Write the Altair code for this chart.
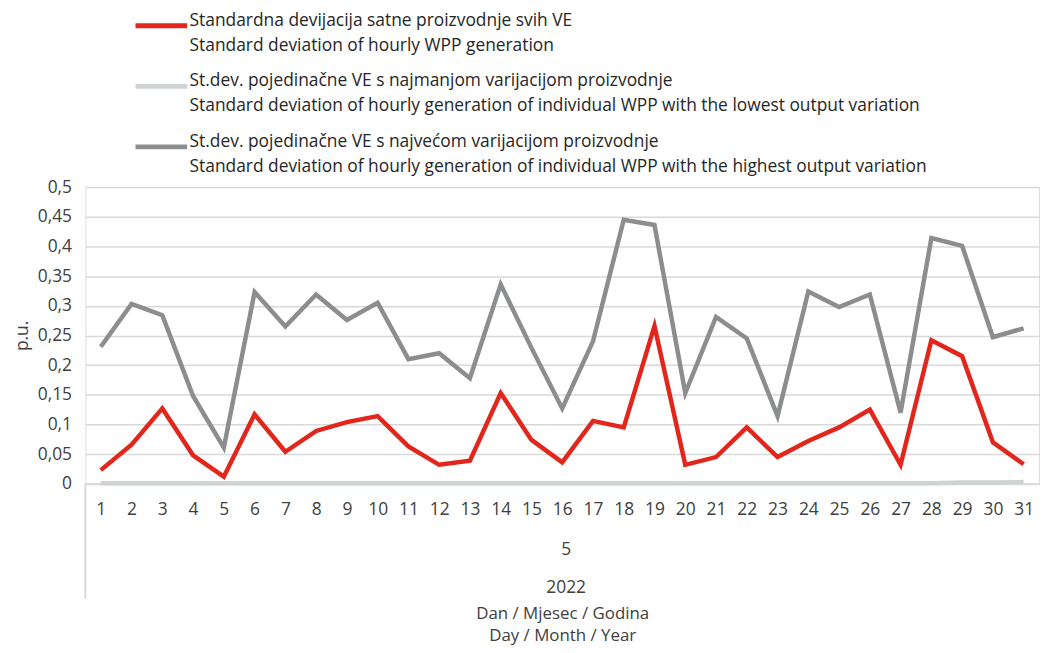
import altair as alt
import pandas as pd

days = list(range(1, 32))

series_names = [
    "Standardna devijacija satne proizvodnje svih VE|Standard deviation of hourly WPP generation",
    "St.dev. pojedinačne VE s najmanjom varijacijom proizvodnje|Standard deviation of hourly generation of individual WPP with the lowest output variation",
    "St.dev. pojedinačne VE s najvećom varijacijom proizvodnje|Standard deviation of hourly generation of individual WPP with the highest output variation",
]
series_colors = ["#e2261c", "#d0d3d4", "#8b8d8f"]

all_wpp = [0.023, 0.066, 0.127, 0.048, 0.012, 0.117, 0.054, 0.089, 0.104, 0.114,
           0.063, 0.032, 0.039, 0.153, 0.074, 0.036, 0.106, 0.095, 0.266, 0.032,
           0.045, 0.095, 0.045, 0.072, 0.095, 0.125, 0.032, 0.242, 0.215, 0.070,
           0.033]
lowest_wpp = [0.001, 0.001, 0.001, 0.001, 0.001, 0.001, 0.001, 0.001, 0.001, 0.001,
              0.001, 0.001, 0.001, 0.001, 0.001, 0.001, 0.001, 0.001, 0.001, 0.001,
              0.001, 0.001, 0.001, 0.001, 0.001, 0.001, 0.001, 0.001, 0.002, 0.002,
              0.003]
highest_wpp = [0.231, 0.303, 0.284, 0.148, 0.061, 0.323, 0.265, 0.319, 0.276, 0.305,
               0.210, 0.220, 0.178, 0.336, 0.229, 0.127, 0.240, 0.445, 0.436, 0.153,
               0.281, 0.245, 0.114, 0.324, 0.298, 0.319, 0.120, 0.414, 0.401, 0.247,
               0.262]

rows = []
for name, vals in zip(series_names, [all_wpp, lowest_wpp, highest_wpp]):
    for d, v in zip(days, vals):
        rows.append({"day": str(d), "value": v, "series": name})
df = pd.DataFrame(rows)

# draw order: light gray first, then dark gray, red on top
draw_order = {series_names[1]: 0, series_names[2]: 1, series_names[0]: 2}
df["z"] = df["series"].map(draw_order)

FONT = "Open Sans"
TXT = "#404040"
FS = 17.5
W, H = 961, 299

lines = alt.Chart(df).mark_line(strokeWidth=4.5, strokeJoin="miter", strokeCap="butt").encode(
    x=alt.X("day:O", sort=[str(d) for d in days],
            scale=alt.Scale(paddingInner=0, paddingOuter=0),
            axis=alt.Axis(title=["Dan / Mjesec / Godina", "Day / Month / Year"],
                          titleFont=FONT, titleFontSize=17, titleFontWeight="normal",
                          titleColor=TXT, titlePadding=88, titleLineHeight=22,
                          labelAngle=0, labelFont=FONT, labelFontSize=FS, labelColor=TXT,
                          labelPadding=17, ticks=False, domain=True,
                          domainColor="#d9d9d9", domainWidth=2, grid=False)),
    y=alt.Y("value:Q", scale=alt.Scale(domain=[0, 0.5], nice=False),
            axis=alt.Axis(title="p.u.", titleFont=FONT, titleFontSize=FS,
                          titleFontWeight="normal", titleColor=TXT, titlePadding=6,
                          values=[0, 0.05, 0.1, 0.15, 0.2, 0.25, 0.3, 0.35, 0.4, 0.45, 0.5],
                          labelExpr="replace(format(datum.value, '.2~f'), '.', ',')",
                          labelFont=FONT, labelFontSize=FS, labelColor=TXT,
                          labelPadding=14, ticks=False, domain=False,
                          grid=True, gridColor="#d9d9d9", gridWidth=1.5)),
    color=alt.Color("series:N", scale=alt.Scale(domain=series_names, range=series_colors),
                    legend=alt.Legend(title=None, orient="none", legendX=48, legendY=-191,
                                      direction="vertical",
                                      labelExpr="split(datum.label, '|')",
                                      labelFont=FONT, labelFontSize=FS, labelColor="#262626",
                                      labelBaseline="alphabetic",
                                      labelLimit=950, symbolType="stroke",
                                      symbolSize=2704, symbolStrokeWidth=5,
                                      rowPadding=4, labelOffset=0)),
    order=alt.Order("z:Q"),
    detail="series:N",
)

month_txt = alt.Chart(pd.DataFrame({"t": ["5"]})).mark_text(
    font=FONT, fontSize=FS, color=TXT, baseline="middle").encode(
    text="t:N", x=alt.value(W / 2 + 4), y=alt.value(H + 67))
year_txt = alt.Chart(pd.DataFrame({"t": ["2022"]})).mark_text(
    font=FONT, fontSize=FS, color=TXT, baseline="middle").encode(
    text="t:N", x=alt.value(W / 2 + 4), y=alt.value(H + 105))
sep = alt.Chart(pd.DataFrame({"a": [0]})).mark_rule(color="#d9d9d9", strokeWidth=2).encode(
    x=alt.value(0), y=alt.value(H), y2=alt.value(H + 116))

chart = alt.layer(sep, lines, month_txt, year_txt).properties(
    width=W, height=H,
    autosize=alt.AutoSizeParams(type="none"),
    padding={"left": 78, "top": 178, "right": 3, "bottom": 160},
).configure_view(stroke=None).configure(
    background="white",
    style={"guide-label": {"lineHeight": 25}},
)

chart.save("out.html", embed_options={"renderer": "svg", "actions": False})
